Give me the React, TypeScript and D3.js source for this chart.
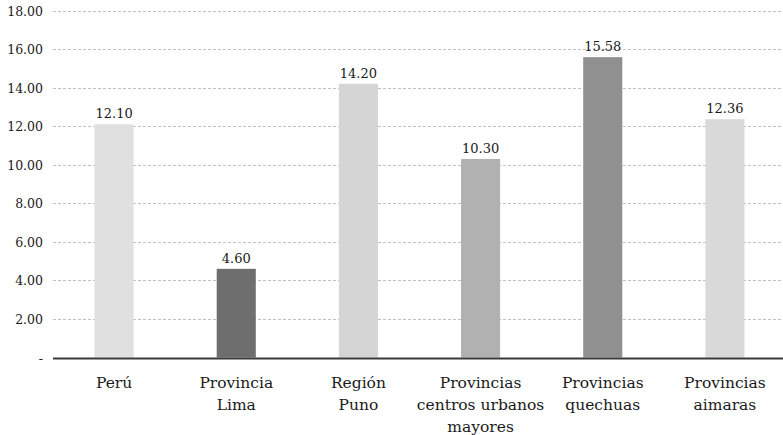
import React from "react";
import * as d3 from "d3";

const categories = [
  ["Perú"],
  ["Provincia", "Lima"],
  ["Región", "Puno"],
  ["Provincias", "centros urbanos", "mayores"],
  ["Provincias", "quechuas"],
  ["Provincias", "aimaras"],
];
const values = [12.1, 4.6, 14.2, 10.3, 15.58, 12.36];
const barColors = ["#e0e0e0", "#6e6e6e", "#d5d5d5", "#b1b1b1", "#909090", "#d9d9d9"];
const yTicks = [0, 2, 4, 6, 8, 10, 12, 14, 16, 18];

const W = 783;
const H = 435;
const FONT = "DejaVu Serif";

export default function App() {
  const x = d3
    .scaleBand<number>()
    .domain(d3.range(values.length))
    .range([53, 786])
    .paddingInner(0.68)
    .paddingOuter(0.34);
  const y = d3.scaleLinear().domain([0, 18]).range([357.5, 10.5]);
  const fmt = d3.format(".2f");

  return (
    <svg
      width={W}
      height={H}
      style={{ position: "absolute", left: 0, top: 0, background: "#fff", fontFamily: FONT }}
    >
      {yTicks.map((t) => (
        <g key={t}>
          {t > 0 && (
            <line
              x1={53}
              x2={783}
              y1={Math.round(y(t)) + 0.5}
              y2={Math.round(y(t)) + 0.5}
              stroke="#c2c2c2"
              strokeDasharray="3,2"
              strokeWidth={1}
            />
          )}
          <text x={43} y={y(t) + 5} textAnchor="end" fontSize={12.5} fill="#1a1a1a">
            {t === 0 ? "-" : fmt(t)}
          </text>
        </g>
      ))}
      {values.map((v, i) => (
        <g key={i}>
          <rect
            x={x(i)}
            y={y(v)}
            width={x.bandwidth()}
            height={y(0) - y(v)}
            fill={barColors[i]}
          />
          <text
            x={(x(i) as number) + x.bandwidth() / 2}
            y={y(v) - 6}
            textAnchor="middle"
            fontSize={13}
            fill="#1a1a1a"
          >
            {fmt(v)}
          </text>
          <text textAnchor="middle" fontSize={15.5} fill="#1a1a1a">
            {categories[i].map((line, j) => (
              <tspan key={j} x={(x(i) as number) + x.bandwidth() / 2} y={388 + j * 22}>
                {line}
              </tspan>
            ))}
          </text>
        </g>
      ))}
      <line x1={53} x2={783} y1={358.5} y2={358.5} stroke="#3a3a3a" strokeWidth={2} />
    </svg>
  );
}
